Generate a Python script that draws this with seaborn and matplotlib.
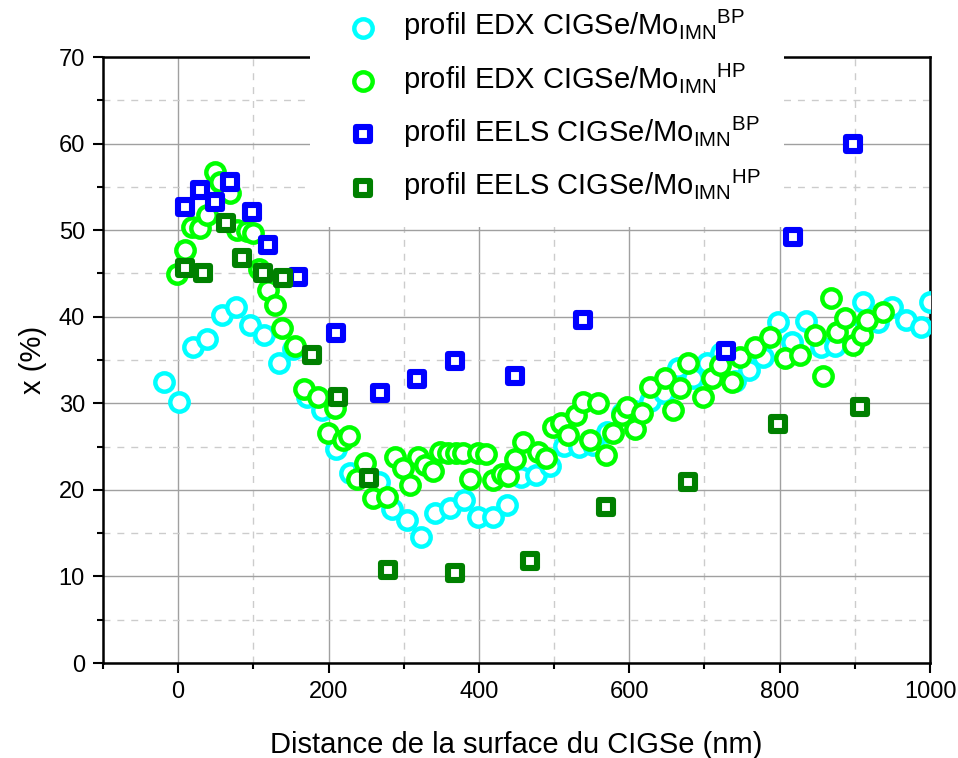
import numpy as np
import pandas as pd
import matplotlib
matplotlib.use("Agg")
import matplotlib.pyplot as plt
import seaborn as sns
from matplotlib.ticker import MultipleLocator

# EDX profile, CIGSe/Mo IMN BP (cyan circles)
edx_bp_x = [-19, 1, 20, 39, 58, 77, 96, 114, 134, 153, 172, 191, 210, 229, 247, 267, 285, 305, 323, 342,
            362, 380, 399, 419, 437, 456, 476, 495, 513, 533, 552, 570, 590, 608, 628, 646, 665, 685, 703, 722,
            741, 759, 778, 798, 816, 835, 855, 874, 892, 911, 931, 949, 968, 988, 1000]
edx_bp_y = [32.5, 30.2, 36.5, 37.4, 40.2, 41.1, 39.0, 37.9, 34.7, 36.3, 30.7, 29.2, 24.7, 21.9, 22.6, 20.9, 17.8, 16.5, 14.6, 17.3,
            17.9, 18.8, 16.9, 16.9, 18.3, 21.5, 21.7, 22.8, 25.1, 25.0, 25.2, 26.7, 28.9, 29.1, 30.3, 31.2, 34.1, 32.9, 34.7, 35.8,
            32.6, 33.8, 35.3, 39.4, 37.1, 39.5, 36.5, 36.6, 38.5, 41.7, 39.4, 41.1, 39.6, 38.8, 41.7]

# EDX profile, CIGSe/Mo IMN HP (green circles)
edx_hp_x = [-1, 9, 19, 29, 39, 49, 56, 69, 78, 92, 100, 108, 120, 129, 138, 156, 168, 186, 199, 209,
            219, 227, 238, 249, 259, 278, 289, 299, 309, 319, 328, 339, 348, 359, 370, 379, 388, 399, 410, 419,
            431, 439, 448, 459, 479, 489, 499, 509, 519, 529, 539, 548, 559, 569, 578, 590, 597, 608, 617, 628,
            648, 658, 668, 678, 698, 710, 721, 737, 747, 767, 787, 807, 827, 847, 858, 868, 876, 887, 898, 910,
            916, 937]
edx_hp_y = [44.9, 47.7, 50.4, 50.2, 51.8, 56.7, 55.6, 54.3, 50.0, 49.9, 49.7, 45.5, 43.1, 41.4, 38.7, 36.6, 31.7, 30.7, 26.6, 29.5,
            25.8, 26.2, 21.3, 23.1, 19.1, 19.2, 23.8, 22.5, 20.6, 23.8, 22.9, 22.2, 24.4, 24.3, 24.3, 24.3, 21.3, 24.3, 24.1, 21.1,
            21.8, 21.6, 23.6, 25.5, 24.4, 23.7, 27.3, 27.7, 26.3, 28.6, 30.1, 25.8, 30.0, 24.0, 26.6, 28.6, 29.6, 27.0, 28.9, 31.9,
            32.9, 29.2, 31.8, 34.7, 30.7, 32.9, 34.4, 32.5, 35.3, 36.5, 37.7, 35.2, 35.6, 37.9, 33.2, 42.2, 38.2, 39.9, 36.7, 37.9,
            39.6, 40.5]

# EELS profile BP (blue squares)
eels_bp_x = [9, 29, 49, 69, 98, 120, 160, 210, 269, 318, 368, 448, 539, 729, 818, 898]
eels_bp_y = [52.7, 54.6, 53.3, 55.6, 52.1, 48.3, 44.6, 38.1, 31.2, 32.8, 34.9, 33.2, 39.6, 36.0, 49.2, 60.0]

# EELS profile HP (dark green squares)
eels_hp_x = [9, 33, 64, 85, 113, 140, 178, 213, 254, 279, 368, 468, 569, 678, 798, 907]
eels_hp_y = [45.6, 45.0, 50.8, 46.8, 45.0, 44.5, 35.6, 30.7, 21.4, 10.7, 10.4, 11.8, 18.0, 20.9, 27.6, 29.6]

labels = [r"profil EDX CIGSe/Mo$_{\mathregular{IMN}}{}^{\mathregular{BP}}$",
          r"profil EDX CIGSe/Mo$_{\mathregular{IMN}}{}^{\mathregular{HP}}$",
          r"profil EELS CIGSe/Mo$_{\mathregular{IMN}}{}^{\mathregular{BP}}$",
          r"profil EELS CIGSe/Mo$_{\mathregular{IMN}}{}^{\mathregular{HP}}$"]

sns.set_theme(style="white")
plt.rcParams["font.family"] = ["Liberation Sans", "DejaVu Sans"]
plt.rcParams["mathtext.fontset"] = "custom"
plt.rcParams["mathtext.rm"] = "Liberation Sans"
plt.rcParams["text.color"] = "black"
plt.rcParams["axes.labelcolor"] = "black"
plt.rcParams["xtick.color"] = "black"
plt.rcParams["ytick.color"] = "black"

fig = plt.figure(figsize=(9.58, 7.58), dpi=100)
ax = fig.add_axes([0.1075, 0.1253, 0.8633, 0.7995])

series = [
    (edx_bp_x, edx_bp_y, "o", "#00ffff", 175, 3.2),
    (edx_hp_x, edx_hp_y, "o", "#00ff00", 175, 3.2),
    (eels_bp_x, eels_bp_y, "s", "#0000ff", 88, 4.4),
    (eels_hp_x, eels_hp_y, "s", "#008000", 88, 4.4),
]
for (xs, ys, mk, col, size, lw), lab in zip(series, labels):
    df = pd.DataFrame({"x": xs, "y": ys})
    sns.scatterplot(data=df, x="x", y="y", ax=ax, marker=mk, s=size,
                    facecolor="white", edgecolor=col, linewidth=lw, label=lab, zorder=3)

ax.set_xlim(-100, 1000)
ax.set_ylim(0, 70)
ax.xaxis.set_major_locator(MultipleLocator(200))
ax.xaxis.set_minor_locator(MultipleLocator(100))
ax.yaxis.set_major_locator(MultipleLocator(10))
ax.yaxis.set_minor_locator(MultipleLocator(5))
ax.set_axisbelow(True)
ax.grid(which="major", color="#a0a0a0", linewidth=1.0, linestyle="-")
ax.grid(which="minor", color="#cccccc", linewidth=1.0, linestyle=(0, (5, 5)))

for sp in ax.spines.values():
    sp.set_visible(True)
    sp.set_color("black")
    sp.set_linewidth(1.8)
ax.tick_params(which="major", direction="out", length=7, width=1.5, labelsize=17,
               bottom=True, left=True, pad=6)
ax.tick_params(which="minor", direction="out", length=4, width=1.5, bottom=True, left=True)

ax.set_xlabel("Distance de la surface du CIGSe (nm)", fontsize=21, labelpad=20)
ax.set_ylabel("x (%)", fontsize=21, labelpad=8)

leg = ax.legend(loc="upper left", bbox_to_anchor=(310 / 958, 1.02), bbox_transform=fig.transFigure,
                frameon=True, facecolor="white", edgecolor="none", framealpha=1, fancybox=False,
                fontsize=21, borderpad=0.8, handlelength=2.0, handletextpad=0.4, labelspacing=0.62,
                scatterpoints=1, borderaxespad=0)
leg.set_zorder(10)

fig.savefig("out.png", dpi=100)
